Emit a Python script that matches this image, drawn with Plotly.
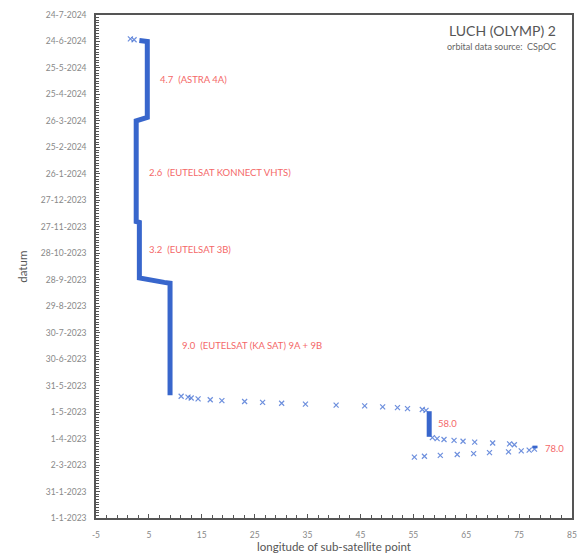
import plotly.graph_objects as go

# ---- data ----
# station-keeping periods (longitude in degrees east, start/end dates)
station_lon = [78.0, 58.0, 9.0, 3.2, 2.6, 4.7]
station_start = ["2023-03-21", "2023-04-03", "2023-05-20", "2023-09-30", "2023-12-03", "2024-03-30"]
station_end = ["2023-03-24", "2023-05-02", "2023-09-24", "2023-12-02", "2024-03-26", "2024-06-24"]
station_label = ["78.0", "58.0", "9.0  (EUTELSAT (KA SAT) 9A + 9B", "3.2  (EUTELSAT 3B)",
                 "2.6  (EUTELSAT KONNECT VHTS)", "4.7  (ASTRA 4A)"]
label_lon = [79.6, 59.3, 10.9, 4.7, 4.7, 6.8]
label_date = ["2023-03-21", "2023-04-18", "2023-07-15", "2023-11-01", "2024-01-27", "2024-05-12"]

# drifting orbital positions between stations (daily fixes)
drift_lon = [55.2, 57.1, 60.1, 63.3, 66.4, 69.4, 73.0, 75.4, 76.9, 77.9,
             74.1, 73.2, 70.0, 66.6, 64.4, 62.7, 60.8, 59.5, 58.6,
             57.4, 56.7, 53.9, 52.0, 49.2, 45.8, 40.4, 34.6, 30.1, 26.5, 23.1, 18.8, 16.6, 14.3, 13.0, 12.4, 11.1,
             2.2, 1.5]
drift_date = ["2023-03-11", "2023-03-12", "2023-03-13", "2023-03-14", "2023-03-15", "2023-03-16",
              "2023-03-17", "2023-03-18", "2023-03-19", "2023-03-20",
              "2023-03-25", "2023-03-26", "2023-03-27", "2023-03-28", "2023-03-29", "2023-03-30",
              "2023-03-31", "2023-04-01", "2023-04-02",
              "2023-05-03", "2023-05-04", "2023-05-05", "2023-05-06", "2023-05-07", "2023-05-08",
              "2023-05-09", "2023-05-10", "2023-05-11", "2023-05-12", "2023-05-13", "2023-05-14",
              "2023-05-15", "2023-05-16", "2023-05-17", "2023-05-18", "2023-05-19",
              "2024-06-26", "2024-06-27"]

# short manoeuvres between neighbouring slots (daily fixes)
shift_lon = [7.9, 6.6, 5.3, 4.2, 3.5, 3.3, 3.9, 4.4, 3.2]
shift_date = ["2023-09-25", "2023-09-26", "2023-09-27", "2023-09-28", "2023-09-29",
              "2024-03-27", "2024-03-28", "2024-03-29", "2024-06-25"]

x_ticks = [-5, 5, 15, 25, 35, 45, 55, 65, 75, 85]

# ---- build track ----
line_x, line_y = [], []
# isolated stations
for i in range(2):
    line_x += [station_lon[i], station_lon[i], None]
    line_y += [station_start[i], station_end[i], None]
# continuous track from 9.0 E onwards (stations + short manoeuvres in date order)
pts = []
for i in range(2, len(station_lon)):
    pts.append((station_start[i], station_lon[i]))
    pts.append((station_end[i], station_lon[i]))
for d, lo in zip(shift_date, shift_lon):
    pts.append((d, lo))
pts.sort(key=lambda p: p[0])
line_x += [p[1] for p in pts]
line_y += [p[0] for p in pts]

BLUE = "rgb(56,102,204)"
RED = "rgb(244,104,104)"
FONT = "Lato, 'Open Sans', sans-serif"

fig = go.Figure()
fig.add_trace(go.Scatter(x=line_x, y=line_y, mode="lines",
                         line=dict(color=BLUE, width=5), hoverinfo="skip", showlegend=False))
fig.add_trace(go.Scatter(x=drift_lon, y=drift_date, mode="markers",
                         marker=dict(symbol="x-thin", size=5, color="rgba(60,105,210,0.75)",
                                     line=dict(color="rgba(60,105,210,0.75)", width=1.2)),
                         showlegend=False))

for lab, lx, ld in zip(station_label, label_lon, label_date):
    fig.add_annotation(x=lx, y=ld, text=lab, showarrow=False, xanchor="left", yanchor="middle",
                       font=dict(family=FONT, size=9.5, color=RED))

fig.add_annotation(xref="paper", yref="paper", x=0.971, y=0.970, text="LUCH (OLYMP) 2",
                   showarrow=False, xanchor="right", yanchor="middle",
                   font=dict(family=FONT, size=14, color="#555"))
fig.add_annotation(xref="paper", yref="paper", x=0.971, y=0.937, text="orbital data source:  CSpOC",
                   showarrow=False, xanchor="right", yanchor="middle",
                   font=dict(family=FONT, size=9, color="#666"))
# axis titles
fig.add_annotation(xref="paper", yref="paper", x=0.5, y=-0.057, text="longitude of sub-satellite point",
                   showarrow=False, xanchor="center", yanchor="middle",
                   font=dict(family=FONT, size=11.5, color="#555"))
fig.add_annotation(xref="paper", yref="paper", x=-0.155, y=0.5, text="datum", textangle=-90,
                   showarrow=False, xanchor="center", yanchor="middle",
                   font=dict(family=FONT, size=11.5, color="#555"))

DAY = 86400000
fig.update_layout(
    width=587, height=557,
    margin=dict(l=96, r=11, t=10, b=39),
    paper_bgcolor="white", plot_bgcolor="white",
    font=dict(family=FONT),
    xaxis=dict(range=[-5, 85], tickvals=x_ticks, ticktext=[str(v) for v in x_ticks],
               showgrid=False, zeroline=False, showline=True, linecolor="#555", linewidth=1.5,
               mirror=True, ticks="inside", ticklen=4, tickcolor="#555",
               minor=dict(ticks="inside", ticklen=3, dtick=2, tick0=-5, tickcolor="#555"),
               tickfont=dict(size=8.5, color="#888"), ticklabelstandoff=8),
    yaxis=dict(type="date", range=["2023-01-01", "2024-07-24"], tick0="2023-01-01", dtick=30 * DAY,
               tickformat="%-d-%-m-%Y", showgrid=False, zeroline=False, showline=True,
               linecolor="#555", linewidth=1.5, mirror=True, ticks="inside", ticklen=4, tickcolor="#555",
               minor=dict(ticks="inside", ticklen=3, dtick=3 * DAY, tick0="2023-01-01", tickcolor="#555"),
               tickfont=dict(size=8.5, color="#888"), ticklabelstandoff=6),
)

fig.write_html("out.html", config={"displayModeBar": False},
               post_script="document.body.style.margin='0';document.body.style.overflow='hidden';")
